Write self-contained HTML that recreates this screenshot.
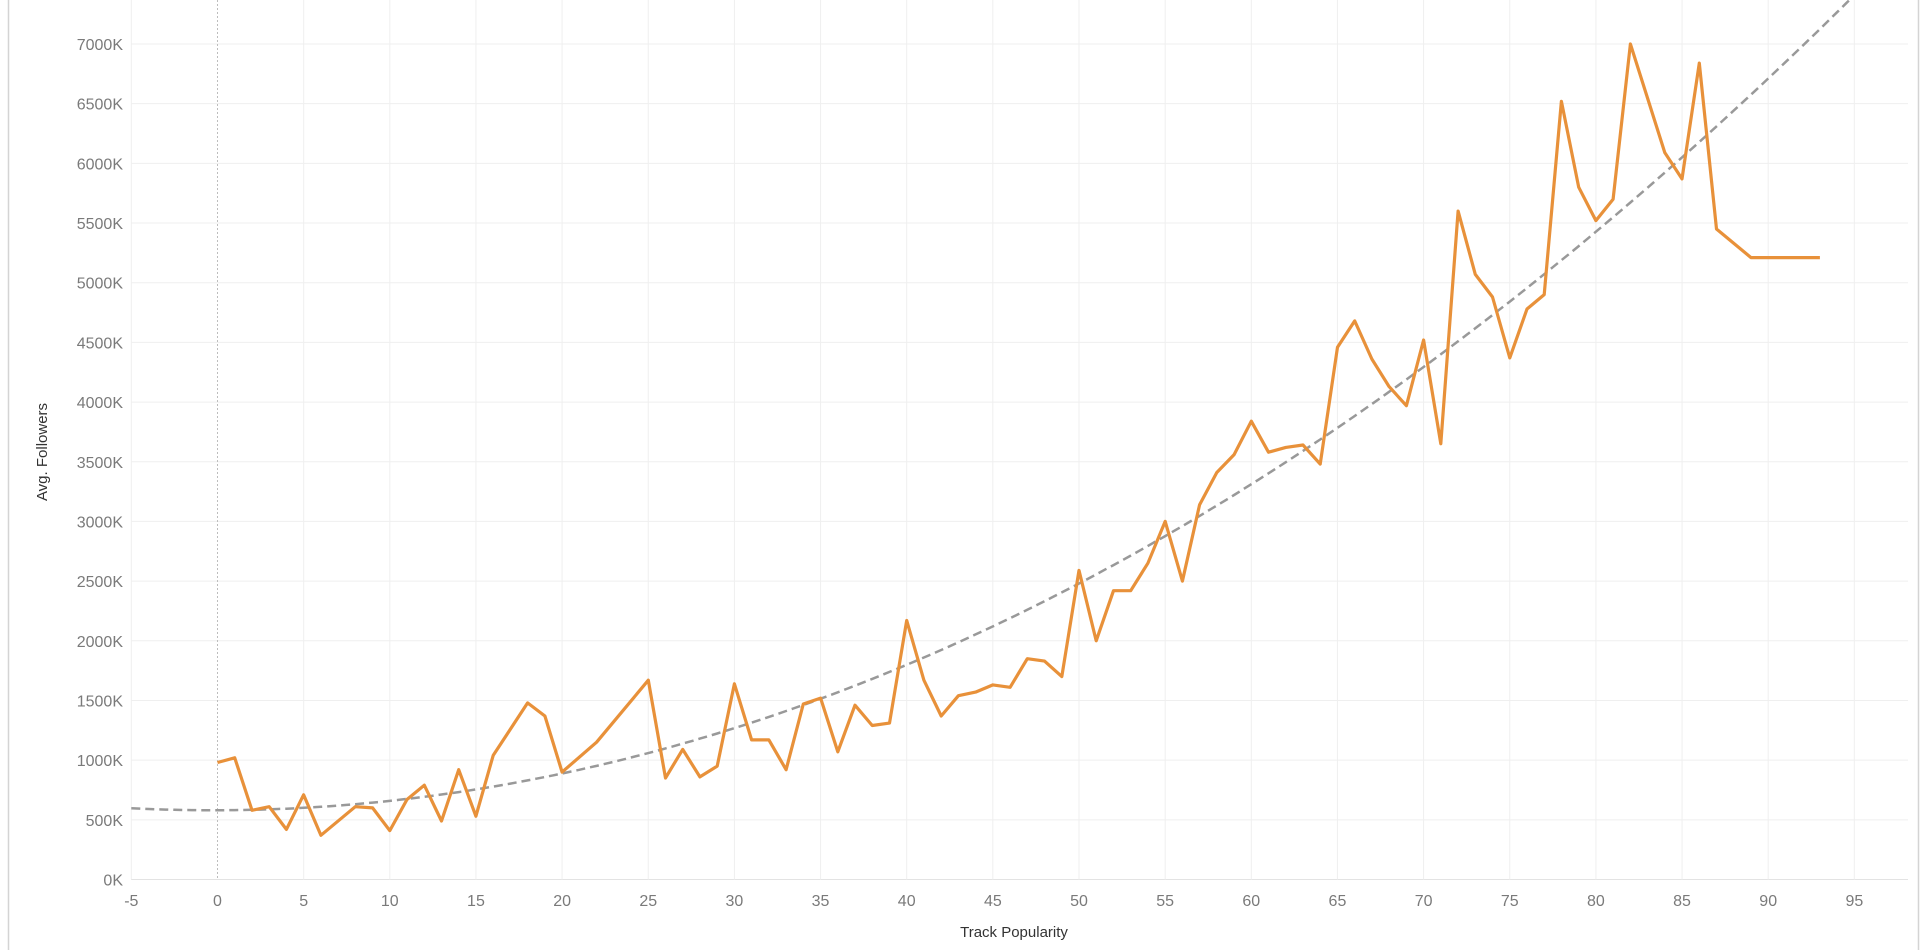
<!DOCTYPE html>
<html><head><meta charset="utf-8">
<style>
html,body{margin:0;padding:0;background:#fff;width:1920px;height:950px;overflow:hidden}
svg{display:block;font-family:"Liberation Sans",sans-serif}
</style></head>
<body>
<svg id="chart" width="1920" height="950">
<line x1="8.5" y1="0" x2="8.5" y2="950" stroke="#d4d4d4" stroke-width="1.5"/>
<line x1="1918.5" y1="0" x2="1918.5" y2="950" stroke="#d4d4d4" stroke-width="1.5"/>
<g id="grid"></g>
<g id="yticks"></g>
<g id="xticks"></g>
<text x="0" y="0" transform="translate(47,452) rotate(-90)" text-anchor="middle" font-size="15" fill="#333">Avg. Followers</text>
<text x="1014" y="937" text-anchor="middle" font-size="15" fill="#333">Track Popularity</text>
<g id="marks"></g>
</svg>
<script>
const popularity = [0,1,2,3,4,5,6,8,9,10,11,12,13,14,15,16,18,19,20,22,25,26,27,28,29,30,31,32,33,34,35,36,37,38,39,40,41,42,43,44,45,46,47,48,49,50,51,52,53,54,55,56,57,58,59,60,61,62,63,64,65,66,67,68,69,70,71,72,73,74,75,76,77,78,79,80,81,82,84,85,86,87,89,93];
const avgFollowers = [980,1020,580,610,420,710,370,610,600,410,670,790,490,920,530,1040,1480,1370,900,1150,1670,850,1090,860,950,1640,1170,1170,920,1470,1520,1070,1460,1290,1310,2170,1670,1370,1540,1570,1630,1610,1850,1830,1700,2590,2000,2420,2420,2650,3000,2500,3140,3410,3560,3840,3580,3620,3640,3480,4460,4680,4360,4130,3970,4520,3650,5600,5070,4880,4370,4780,4900,6520,5800,5520,5700,7000,6090,5870,6840,5450,5210,5210];
const trendCoefs = [580,0.35,0.753];
const xTicks = [-5,0,5,10,15,20,25,30,35,40,45,50,55,60,65,70,75,80,85,90,95];
const yTicks = [0,500,1000,1500,2000,2500,3000,3500,4000,4500,5000,5500,6000,6500,7000];

const NS="http://www.w3.org/2000/svg";
const X0=217.5, XU=17.23, Y0=879.5, YK=(879.5-44)/7000;
const L=131, R=1908, T=0, B=879.5;
function sx(v){return X0+v*XU;}
function sy(v){return Y0-v*YK;}
function mk(tag,attrs,parent){const e=document.createElementNS(NS,tag);for(const k in attrs)e.setAttribute(k,attrs[k]);parent.appendChild(e);return e;}
const grid=document.getElementById('grid'),yt=document.getElementById('yticks'),xt=document.getElementById('xticks'),marks=document.getElementById('marks');
yTicks.forEach(v=>{
  const y=sy(v);
  const g=mk('line',{x1:L,x2:R,y1:y,y2:y,stroke:v===0?'#e3e3e3':'#efefef','stroke-width':1},grid);
  
  
  const t=mk('text',{x:123,y:y+6,'text-anchor':'end','font-size':16,fill:'#7a7a7a'},yt);
  t.textContent=v+'K';
  
  
});
xTicks.forEach(v=>{
  const x=sx(v);
  const g=mk('line',{x1:x,x2:x,y1:T,y2:B,stroke:'#efefef','stroke-width':1},grid);
  if(v===0){g.setAttribute('stroke','#bdbdbd');g.setAttribute('stroke-dasharray','2,2');}
  
  
  const t=mk('text',{x:x,y:906,'text-anchor':'middle','font-size':16,fill:'#7a7a7a'},xt);
  t.textContent=v;
  
  
});
// trend line
let td='';
for(let v=-5;v<=98;v+=0.5){
  const val=trendCoefs[0]+trendCoefs[1]*v+trendCoefs[2]*v*v;
  td+=(td?'L':'M')+sx(v).toFixed(1)+','+sy(val).toFixed(1);
}
const tr=mk('path',{d:td,fill:'none',stroke:'#999','stroke-width':2.5,'stroke-dasharray':'9,5'},marks);


// series
let d='';
popularity.forEach((p,i)=>{d+=(i?'L':'M')+sx(p).toFixed(1)+','+sy(avgFollowers[i]).toFixed(1);});
const ln=mk('path',{d:d,fill:'none',stroke:'#e8913a','stroke-width':3.2,'stroke-linejoin':'round'},marks);


</script>
</body></html>
